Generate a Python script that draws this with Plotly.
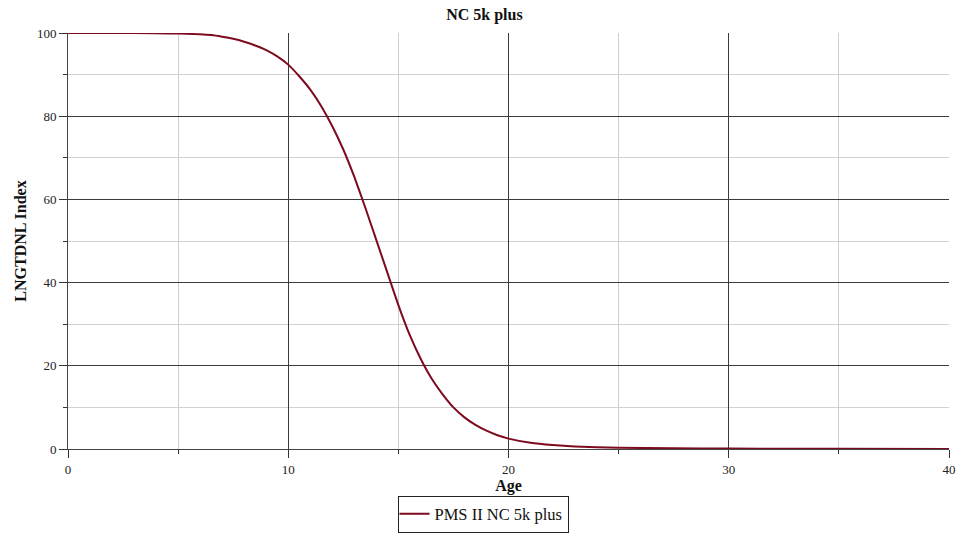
import plotly.graph_objects as go

# Age (years) and LNGTDNL index for the PMS II NC 5k plus curve
age = [0, 2, 4, 5, 6, 6.5, 7, 7.5, 8, 8.5, 9, 9.5, 10, 10.5, 11, 11.5, 12, 12.5,
       13, 13.5, 14, 14.5, 15, 15.5, 16, 16.5, 17, 17.5, 18, 18.5, 19, 19.5, 20,
       21, 22, 23, 25, 27.5, 30, 35, 40]
index = [100.0, 100.0, 99.95, 99.85, 99.7, 99.5, 99.1, 98.6, 97.9, 97.0, 95.9, 94.4,
         92.4, 89.6, 86.4, 82.4, 77.6, 72.0, 65.4, 58.0, 50.2, 42.4, 34.6, 27.6, 21.8,
         17.0, 13.2, 10.0, 7.6, 5.8, 4.4, 3.3, 2.5, 1.5, 0.95, 0.6, 0.3, 0.18, 0.1,
         0.05, 0.02]

series_name = "PMS II NC 5k plus"
serif = "Liberation Serif, Times New Roman, serif"

fig = go.Figure()
fig.add_trace(go.Scatter(
    x=age, y=index, mode="lines", name=series_name,
    line=dict(color="#7d0a1e", width=2, shape="spline", smoothing=0.5),
))

fig.update_layout(
    width=963, height=533,
    margin=dict(l=68, r=14, t=33, b=83.5, autoexpand=False),
    paper_bgcolor="white", plot_bgcolor="white",
    font=dict(family=serif, size=13, color="#222"),
    title=dict(text="<b>NC 5k plus</b>", x=0.503, xanchor="center",
               y=1 - 14 / 533, yanchor="middle", font=dict(size=16, color="#111")),
    showlegend=True,
    legend=dict(orientation="h", x=483 / 963, xanchor="center", xref="container",
                y=1 - 514 / 533, yanchor="middle", yref="container",
                bordercolor="#222", borderwidth=1, font=dict(size=16.5, color="#111"),
                tracegroupgap=0, indentation=-4),
)

fig.update_xaxes(
    range=[0, 40], dtick=10, tick0=0, automargin=False,
    showgrid=True, gridcolor="#3a3a3a", gridwidth=1,
    ticks="outside", ticklen=8, tickcolor="#333", tickfont=dict(size=13),
    showline=True, linecolor="#444", linewidth=1, zeroline=False,
    minor=dict(dtick=5, showgrid=True, gridcolor="#d0d0d0", gridwidth=1,
               ticks="outside", ticklen=4, tickcolor="#333"),
    title=dict(text="<b>Age</b>", font=dict(size=16, color="#111"), standoff=6),
)
fig.update_yaxes(
    range=[0, 100], dtick=20, tick0=0, automargin=False,
    showgrid=True, gridcolor="#3a3a3a", gridwidth=1,
    ticks="outside", ticklen=8, tickcolor="#333", tickfont=dict(size=13),
    showline=True, linecolor="#444", linewidth=1, zeroline=False,
    minor=dict(dtick=10, showgrid=True, gridcolor="#d0d0d0", gridwidth=1,
               ticks="outside", ticklen=4, tickcolor="#333"),
    title=dict(text="<b>LNGTDNL Index</b>", font=dict(size=16, color="#111"), standoff=6),
)

fig.write_html("out.html")
